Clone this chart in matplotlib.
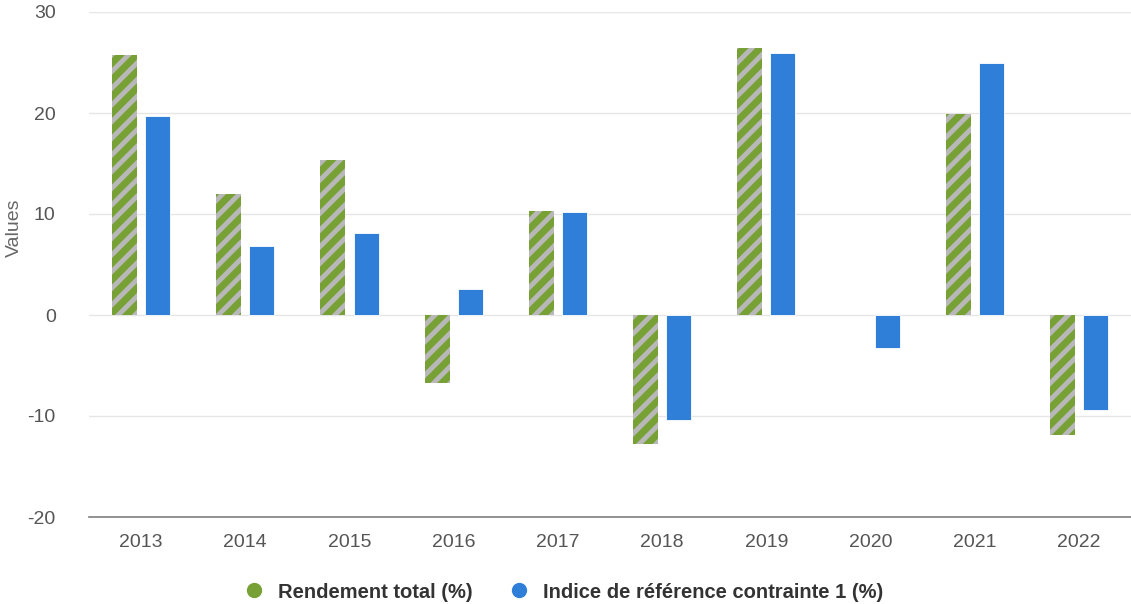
import numpy as np
import matplotlib.pyplot as plt
from matplotlib.lines import Line2D

# Data
years = ['2013', '2014', '2015', '2016', '2017', '2018', '2019', '2020', '2021', '2022']
rendement = [25.7, 12.0, 15.3, -6.7, 10.3, -12.8, 26.4, 0.0, 19.9, -11.9]
indice = [19.7, 6.8, 8.1, 2.6, 10.2, -10.4, 25.9, -3.3, 25.0, -9.4]
labels = ['Rendement total (%)', 'Indice de référence contrainte 1 (%)']
yticks = [-20, -10, 0, 10, 20, 30]

green = '#77a135'
blue = '#2f7ed8'

plt.rcParams['font.family'] = ['Liberation Sans', 'DejaVu Sans']
plt.rcParams['axes.unicode_minus'] = False
plt.rcParams['hatch.linewidth'] = 3.5

fig = plt.figure(figsize=(11.31, 6.04), dpi=100)
ax = fig.add_axes([89 / 1131, 1 - 517 / 604, 1 - 89 / 1131, 505 / 604])

x = np.arange(len(years))
w = 0.24
ax.bar(x - 0.16, rendement, w, color=green, hatch='//', edgecolor='#b8b8b8', linewidth=0, zorder=3)
ax.bar(x + 0.16, indice, w, color=blue, edgecolor='white', linewidth=0.6, zorder=3)

ax.set_xlim(-0.5, len(years) - 0.5)
ax.set_ylim(-20, 30)
ax.set_yticks(yticks)
ax.set_xticks(x)
ax.set_xticklabels(years)
ax.tick_params(axis='both', length=0, labelsize=14, colors='#555555')
ax.tick_params(axis='y', pad=24)
ax.tick_params(axis='x', pad=12)
ax.grid(axis='y', color='#e6e6e6', linewidth=1, zorder=0)
for s in ['top', 'right', 'left']:
    ax.spines[s].set_visible(False)
ax.spines['bottom'].set_color('#7f7f7f')
ax.spines['bottom'].set_linewidth(1.2)
ax.set_ylabel('Values', fontsize=14, color='#666666')
ax.yaxis.set_label_coords(-0.063, 0.572)

handles = [Line2D([], [], marker='o', linestyle='', markersize=10, color=green),
           Line2D([], [], marker='o', linestyle='', markersize=10, color=blue)]
fig.legend(handles, labels, loc='center', bbox_to_anchor=(0.494, 1 - 592 / 604), ncol=2,
           frameon=False, handletextpad=0.2, columnspacing=1.3,
           prop={'weight': 'bold', 'size': 14.5})
for t in fig.legends[0].get_texts():
    t.set_color('#333333')

plt.savefig('out.png', dpi=100)
